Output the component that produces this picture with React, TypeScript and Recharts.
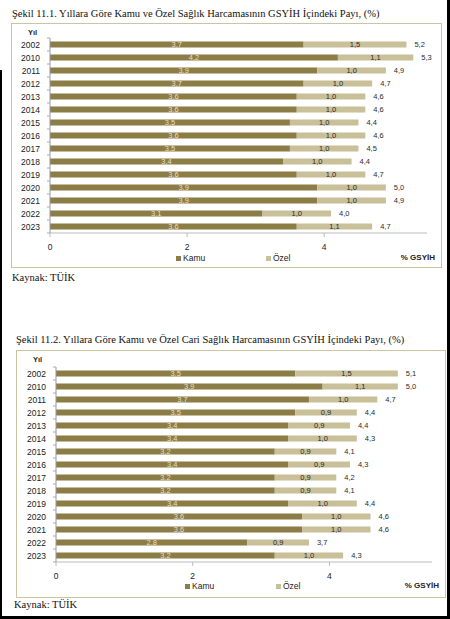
import React from "react"
import { Bar, BarChart, XAxis, YAxis, LabelList } from "recharts"

const years = ["2002", "2010", "2011", "2012", "2013", "2014", "2015", "2016", "2017", "2018", "2019", "2020", "2021", "2022", "2023"]

// Şekil 11.1 - toplam sağlık harcaması
const kamu1 = [3.7, 4.2, 3.9, 3.7, 3.6, 3.6, 3.5, 3.6, 3.5, 3.4, 3.6, 3.9, 3.9, 3.1, 3.6]
const ozel1 = [1.5, 1.1, 1.0, 1.0, 1.0, 1.0, 1.0, 1.0, 1.0, 1.0, 1.0, 1.0, 1.0, 1.0, 1.1]
const total1 = [5.2, 5.3, 4.9, 4.7, 4.6, 4.6, 4.4, 4.6, 4.5, 4.4, 4.7, 5.0, 4.9, 4.0, 4.7]

// Şekil 11.2 - cari sağlık harcaması
const kamu2 = [3.5, 3.9, 3.7, 3.5, 3.4, 3.4, 3.2, 3.4, 3.2, 3.2, 3.4, 3.6, 3.6, 2.8, 3.2]
const ozel2 = [1.5, 1.1, 1.0, 0.9, 0.9, 1.0, 0.9, 0.9, 0.9, 0.9, 1.0, 1.0, 1.0, 0.9, 1.0]
const total2 = [5.1, 5.0, 4.7, 4.4, 4.4, 4.3, 4.1, 4.3, 4.2, 4.1, 4.4, 4.6, 4.6, 3.7, 4.3]

const xTicks = [0, 2, 4]

const KAMU = "#8c7d46"
const OZEL = "#c9bf98"
const BORDER = "#cbc5a2"
const SANS = "'Liberation Sans', Arial, sans-serif"
const SERIF = "'Liberation Serif', 'Times New Roman', serif"

const fmt = (v: number) => v.toFixed(1).replace(".", ",")

const YearTick = (props: any) => {
  const { x, y, payload, index } = props
  return (
    <g>
      <text x={x - 10} y={y} dy={3} textAnchor="end" fontSize={8.5} fontFamily={SANS} fill="#222">
        {payload.value}
      </text>
      {index === 0 && <line x1={x - 3} x2={x} y1={y - 6.5} y2={y - 6.5} stroke="#aaa" />}
      <line x1={x - 3} x2={x} y1={y + 6.5} y2={y + 6.5} stroke="#aaa" />
    </g>
  )
}

const LegendRow = ({ top, kamuX, ozelX }: { top: number; kamuX: number; ozelX: number }) => (
  <div style={{ position: "absolute", left: 0, right: 0, top, height: 12, fontFamily: SANS, fontSize: 8.5, color: "#222" }}>
    <span style={{ position: "absolute", left: kamuX, top: 3, width: 5, height: 5, background: KAMU }} />
    <span style={{ position: "absolute", left: kamuX + 7, top: 0 }}>Kamu</span>
    <span style={{ position: "absolute", left: ozelX, top: 3, width: 5, height: 5, background: OZEL }} />
    <span style={{ position: "absolute", left: ozelX + 7, top: 0 }}>Özel</span>
    <span style={{ position: "absolute", right: 6, top: 0, fontWeight: "bold", fontSize: 8 }}>% GSYİH</span>
  </div>
)

interface PanelProps {
  title: string
  kamu: number[]
  ozel: number[]
  total: number[]
  titleTop: number
  titleLeft: number
  box: { left: number; top: number; width: number; height: number }
  margin: { top: number; right: number; bottom: number }
  yWidth: number
  legendTop: number
  kamuX: number
  ozelX: number
  sourceTop: number
  sourceLeft: number
}

function Panel(p: PanelProps) {
  const data = years.map((y, i) => ({ yil: y, kamu: p.kamu[i], ozel: p.ozel[i], total: p.total[i] }))
  return (
    <>
      <div style={{ position: "absolute", left: p.titleLeft, top: p.titleTop, fontFamily: SERIF, fontSize: 10.5, color: "#111", whiteSpace: "nowrap" }}>
        {p.title}
      </div>
      <div
        style={{
          position: "absolute",
          left: p.box.left,
          top: p.box.top,
          width: p.box.width,
          height: p.box.height,
          border: `1.5px solid ${BORDER}`,
          boxSizing: "border-box",
        }}
      >
        <div style={{ position: "absolute", left: 16, top: 4, fontFamily: SANS, fontSize: 7.5, fontWeight: "bold", color: "#222" }}>Yıl</div>
        <BarChart
          width={p.box.width - 3}
          height={p.box.height - 3}
          data={data}
          layout="vertical"
          barCategoryGap="26%"
          margin={{ top: p.margin.top, right: p.margin.right, bottom: p.margin.bottom, left: 0 }}
        >
          <XAxis
            type="number"
            domain={[0, 5.5]}
            ticks={xTicks}
            tick={{ fontSize: 8.5, fontFamily: SANS, fill: "#222" }}
            stroke="#bbb"
            tickSize={4}
            tickMargin={7}
            height={20}
          />
          <YAxis
            type="category"
            dataKey="yil"
            width={p.yWidth}
            stroke="#999"
            tickLine={false}
            tickSize={0}
            tickMargin={0}
            tick={<YearTick />}
            interval={0}
          />
          <Bar dataKey="kamu" stackId="a" fill={KAMU} isAnimationActive={false}>
            <LabelList dataKey="kamu" position="center" formatter={(v: any) => fmt(Number(v))} fill="#e6dfc6" fontSize={7.5} fontFamily={SANS} />
          </Bar>
          <Bar dataKey="ozel" stackId="a" fill={OZEL} isAnimationActive={false}>
            <LabelList dataKey="ozel" position="center" formatter={(v: any) => fmt(Number(v))} fill="#2a2a2a" fontSize={7.5} fontFamily={SANS} />
            <LabelList dataKey="total" position="right" offset={8} formatter={(v: any) => fmt(Number(v))} fill="#2a2a2a" fontSize={7.5} fontFamily={SANS} />
          </Bar>
        </BarChart>
        <LegendRow top={p.legendTop} kamuX={p.kamuX} ozelX={p.ozelX} />
      </div>
      <div style={{ position: "absolute", left: p.sourceLeft, top: p.sourceTop, fontFamily: SERIF, fontSize: 10.5, color: "#111" }}>Kaynak: TÜİK</div>
    </>
  )
}

export default function App() {
  return (
    <div style={{ position: "absolute", left: 0, top: 0, width: 450, height: 619, background: "#fff", overflow: "hidden" }}>
      <Panel
        title="Şekil 11.1. Yıllara Göre Kamu ve Özel Sağlık Harcamasının GSYİH İçindeki Payı, (%)"
        kamu={kamu1}
        ozel={ozel1}
        total={total1}
        titleLeft={12}
        titleTop={8}
        box={{ left: 11, top: 23, width: 431, height: 245 }}
        margin={{ top: 14, right: 13, bottom: 13 }}
        yWidth={38}
        legendTop={229}
        kamuX={164}
        ozelX={254}
        sourceLeft={12}
        sourceTop={272}
      />
      <Panel
        title="Şekil 11.2. Yıllara Göre Kamu ve Özel Cari Sağlık Harcamasının GSYİH İçindeki Payı, (%)"
        kamu={kamu2}
        ozel={ozel2}
        total={total2}
        titleLeft={16}
        titleTop={334}
        box={{ left: 16, top: 350, width: 430, height: 248 }}
        margin={{ top: 16, right: 12, bottom: 14 }}
        yWidth={39}
        legendTop={230}
        kamuX={168}
        ozelX={259}
        sourceLeft={14}
        sourceTop={599}
      />
      <div style={{ position: "absolute", right: 0, top: 0, width: 3, height: 619, background: "#000" }} />
      <div style={{ position: "absolute", left: 0, top: 70, width: 2, height: 549, background: "#000" }} />
      <div style={{ position: "absolute", left: 0, top: 616, width: 450, height: 3, background: "#000" }} />
    </div>
  )
}
